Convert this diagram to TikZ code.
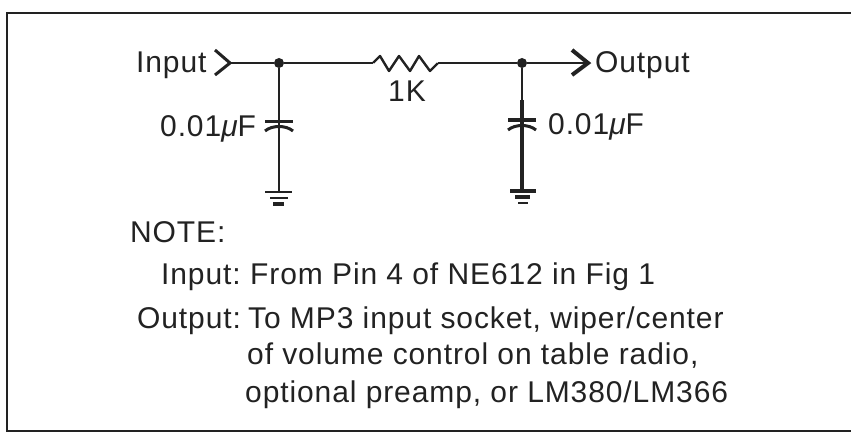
\documentclass[tikz,border=0pt]{standalone}
\usepackage{fontspec}
\setmainfont[LetterSpace=3]{Liberation Sans}
\usepackage{xcolor}
\definecolor{inkline}{HTML}{222222}
\tikzset{
    x=1pt, y=-1pt,
    wire/.style = {draw=inkline, line width=2.4pt},
    heavy-wire/.style = {draw=inkline, line width=4pt},
    frame-box/.style = {draw=inkline, line width=2.8pt},
    dot-node/.style = {circle, fill=inkline, inner sep=0pt, minimum size=10pt},
    lead/.style = {inner sep=0pt, minimum size=0pt},
    label-text/.style = {text=inkline, font=\fontsize{30}{34}\selectfont, inner sep=0pt, anchor=base west},
}
\begin{document}
\begin{tikzpicture}
\useasboundingbox (0,0) rectangle (851,438);
\coordinate (frame-a) at (851,13);
\coordinate (frame-b) at (7,13);
\coordinate (frame-c) at (7,431);
\coordinate (frame-d) at (851,431);
\draw [frame-box] (frame-a) -- (frame-b) -- (frame-c) -- (frame-d);

% signal line
\node [dot-node] (left-dot) at (279,63) {};
\node [dot-node] (right-dot) at (522,63) {};
\node [lead] (in-tip) at (230,63) {};
\node [lead] (out-tip) at (588,63) {};
\node [lead] (res-a) at (373,63) {};
\node [lead] (res-b) at (438,63) {};
\draw [wire] (in-tip) -- (left-dot) -- (res-a);
\draw [wire, line join=round] (res-a) -- (380,56) -- (389,71) -- (399,56) -- (410,71) -- (419,56) -- (430,71) -- (res-b);
\draw [wire] (res-b) -- (right-dot) -- (out-tip);
\draw [wire, line width=3pt] (215,50) -- (in-tip.center) -- (215,75);
\draw [wire, line width=4pt] (572,50) -- (out-tip.center) -- (572,75);

% left capacitor and ground
\node [lead] (cap-a) at (279,125) {};
\node [lead] (gnd-a) at (279,192) {};
\draw [wire] (left-dot) -- (cap-a) -- (gnd-a);
\draw [heavy-wire, line width=3pt] (265,122) -- (293,122);
\draw [wire, line width=3pt] (265,131) .. controls (272,125) and (286,125) .. (293,131);
\draw [wire] (265,192) -- (292,192);
\draw [wire] (270,198) -- (288,198);
\draw [heavy-wire] (273,204) -- (284,204);

% right capacitor and ground
\node [lead] (cap-b) at (522,125) {};
\node [lead] (gnd-b) at (522,190) {};
\draw [wire] (right-dot) -- (522,100);
\draw [heavy-wire] (522,100) -- (cap-b) -- (gnd-b);
\draw [heavy-wire] (508,120) -- (536,120);
\draw [wire, line width=3pt] (508,130) .. controls (515,124) and (529,124) .. (536,130);
\draw [heavy-wire] (510,191) -- (536,191);
\draw [heavy-wire] (515,197) -- (530,197);
\draw [wire] (518,203) -- (528,203);

% labels
\node [label-text] (input-label) at (136,73) {Input};
\node [label-text] (output-label) at (595,73) {Output};
\node [label-text] (res-label) at (388,102) {1K};
\node [label-text] (cap-a-label) at (160,137) {0.01{\itshape μ}F};
\node [label-text] (cap-b-label) at (548,135) {0.01{\itshape μ}F};

% note
\node [label-text] (note-title) at (130,243) {NOTE:};
\node [label-text] (note-in) at (161,284) {Input:};
\node [label-text] (note-in-text) at (250,284) {From Pin 4 of NE612 in Fig 1};
\node [label-text] (note-out) at (137,328) {Output:};
\node [label-text] (note-out-a) at (248,328) {To MP3 input socket, wiper/center};
\node [label-text] (note-out-b) at (247,364) {of volume control on table radio,};
\node [label-text] (note-out-c) at (245,402) {optional preamp, or LM380/LM366};
\end{tikzpicture}
\end{document}
